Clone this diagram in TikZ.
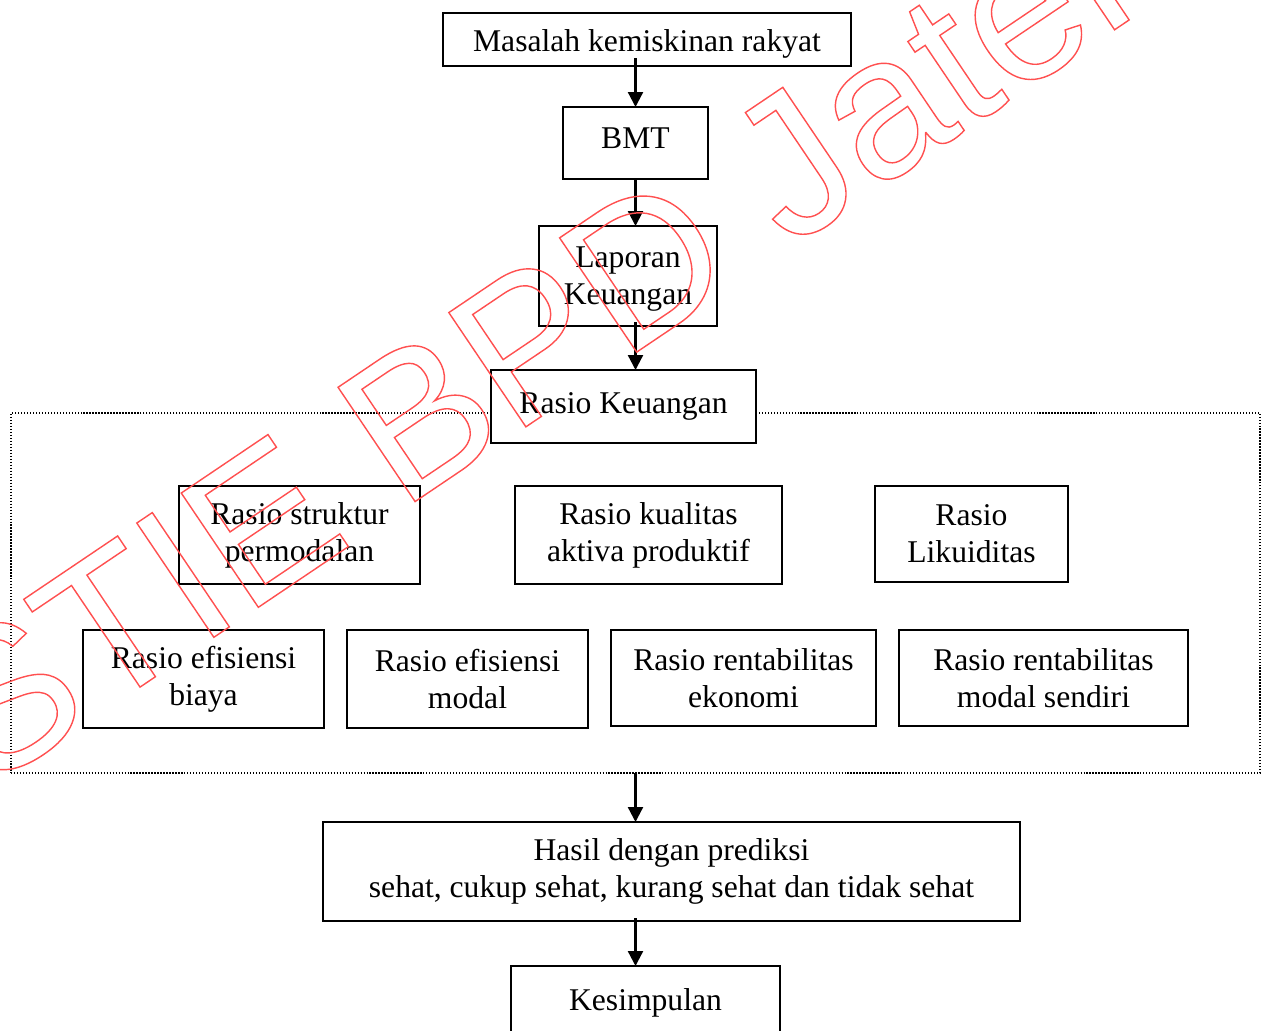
\documentclass[tikz,border=0pt]{standalone}
\usepackage{fontspec}
\setmainfont{Liberation Serif}
\newfontfamily\wmfont{Liberation Sans}
\usepackage{tikz}
\usetikzlibrary{positioning, calc, arrows.meta}
\usepackage{xcolor}
\definecolor{wmred}{RGB}{255,80,80}

% huruf bergaris tepi (outline) untuk watermark
\newcommand\garison{\special{pdf:literal direct 1 Tr 0.8 w}}
\newcommand\garisoff{\special{pdf:literal direct 0 Tr}}

\tikzset{
  kotak/.style={draw, line width=1.3pt, align=center, inner sep=0pt, outer sep=0pt,
    font=\fontsize{18}{21}\selectfont},
  panah/.style={-{Triangle[length=3mm,width=3mm]}, line width=1.3pt},
  bingkai/.style={draw, densely dotted, line width=0.7pt, inner sep=0pt, outer sep=0pt},
}

\begin{document}
\begin{tikzpicture}[x=0.2mm, y=-0.2mm] % 1 satuan = 1 piksel gambar acuan

\useasboundingbox (0,0) rectangle (1266,1030);

% alur atas
\node[kotak, minimum width=81.6mm, text height=7.74mm, text depth=2.86mm] (masalah) at (647,39.5) {Masalah kemiskinan rakyat};
\node[kotak, minimum width=29mm, text height=8.26mm, text depth=6.14mm] (bmt) at (635.5,143) {BMT};
\node[kotak, minimum width=35.6mm, minimum height=20mm] (laporan) at (628,276) {\raisebox{-0.6mm}[\height][\depth]{\begin{tabular}{@{}c@{}}Laporan\\Keuangan\end{tabular}}};

% bingkai rasio
\node[bingkai, minimum width=249.8mm, minimum height=72mm] (bingkai) at (635.5,593) {};
\node[kotak, fill=white, minimum width=53mm, minimum height=14.6mm] (rasiokeu) at (623.5,406.5) {Rasio Keuangan};

\node[kotak, minimum width=48.2mm, minimum height=19.6mm] (struktur) at (299.5,535) {Rasio struktur\\permodalan};
\node[kotak, minimum width=53.4mm, minimum height=19.6mm] (kualitas) at (648.5,535) {Rasio kualitas\\aktiva produktif};
\node[kotak, minimum width=38.6mm, minimum height=19.2mm] (likuid) at (971.5,534) {Rasio\\Likuiditas};

\node[kotak, minimum width=48.2mm, minimum height=19.6mm] (efbiaya) at (203.5,679) {Rasio efisiensi\\biaya};
\node[kotak, minimum width=48.2mm, minimum height=19.6mm] (efmodal) at (467.5,679) {Rasio efisiensi\\modal};
\node[kotak, minimum width=53mm, minimum height=19.2mm] (rentek) at (743.5,678) {Rasio rentabilitas\\ekonomi};
\node[kotak, minimum width=57.8mm, minimum height=19.2mm] (rentmod) at (1043.5,678) {Rasio rentabilitas\\modal sendiri};

% alur bawah
\node[kotak, minimum width=139.4mm, minimum height=19.8mm] (hasil) at (671.5,871.5) {Hasil dengan prediksi\\sehat, cukup sehat, kurang sehat dan tidak sehat};
\node[kotak, minimum width=53.8mm, minimum height=14.8mm] (kesimpulan) at (645.5,1003) {Kesimpulan};

% panah
\draw[panah] ($(masalah.south -| bmt.north)+(0,-8)$) -- (bmt.north);
\draw[panah] (bmt.south) -- (bmt.south |- laporan.north);
\draw[panah] ($(laporan.south -| bmt.south)+(0,-4)$) -- (rasiokeu.north -| bmt.south);
\draw[panah] (bingkai.south -| bmt.south) -- (hasil.north -| bmt.south);
\draw[panah] ($(hasil.south -| bmt.south)+(0,-3)$) -- (kesimpulan.north -| bmt.south);

% watermark
\node[anchor=base west, rotate=34, inner sep=0pt, text=wmred,
  font=\fontsize{114}{120}\wmfont] (watermark) at (-14,791) {\garison STIE BPD Jateng\garisoff};

\end{tikzpicture}
\end{document}
